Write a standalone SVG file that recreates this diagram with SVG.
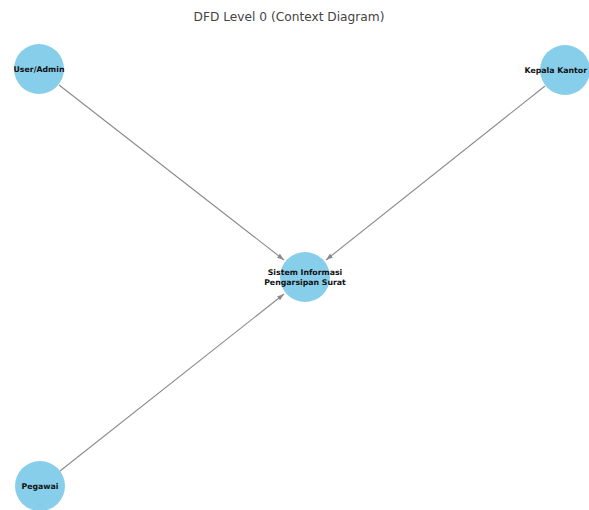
<svg xmlns="http://www.w3.org/2000/svg" width="589" height="510" viewBox="0 0 589 510">
<style>
.node circle{fill:#87CEEB;stroke:none}
.node text{font-family:"DejaVu Sans",sans-serif;font-weight:bold;font-size:7.8px;fill:#111;text-anchor:middle}
.edge{stroke:#8a8a8a;stroke-width:1.1;fill:none;marker-end:url(#arr)}
.title{font-family:"DejaVu Sans",sans-serif;font-size:12.2px;fill:#444;text-anchor:middle}
</style>
<defs>
<marker id="arr" viewBox="0 0 10 10" refX="10" refY="5" markerWidth="7" markerHeight="7" markerUnits="userSpaceOnUse" orient="auto">
<path d="M0,1.5 L10,5 L0,8.5 z" fill="#8a8a8a"/>
</marker>
</defs>
<rect width="589" height="510" fill="#fff"/>
<text class="title" x="289" y="21">DFD Level 0 (Context Diagram)</text>
<g id="connectors">
<line class="edge" x1="59" y1="85" x2="284" y2="260"/>
<line class="edge" x1="545" y1="86" x2="326" y2="260"/>
<line class="edge" x1="60" y1="471" x2="284" y2="294"/>
</g>
<g id="node-user" class="node">
<circle cx="39" cy="69" r="25"/>
<text x="39" y="72">User/Admin</text>
</g>
<g id="node-kepala" class="node">
<circle cx="565" cy="70" r="25"/>
<text x="587" y="73" style="text-anchor:end">Kepala Kantor</text>
</g>
<g id="node-sistem" class="node">
<circle cx="305" cy="277" r="25"/>
<text x="305" y="275">Sistem Informasi</text>
<text x="305" y="285">Pengarsipan Surat</text>
</g>
<g id="node-pegawai" class="node">
<circle cx="40" cy="486" r="25"/>
<text x="40" y="489">Pegawai</text>
</g>
</svg>
